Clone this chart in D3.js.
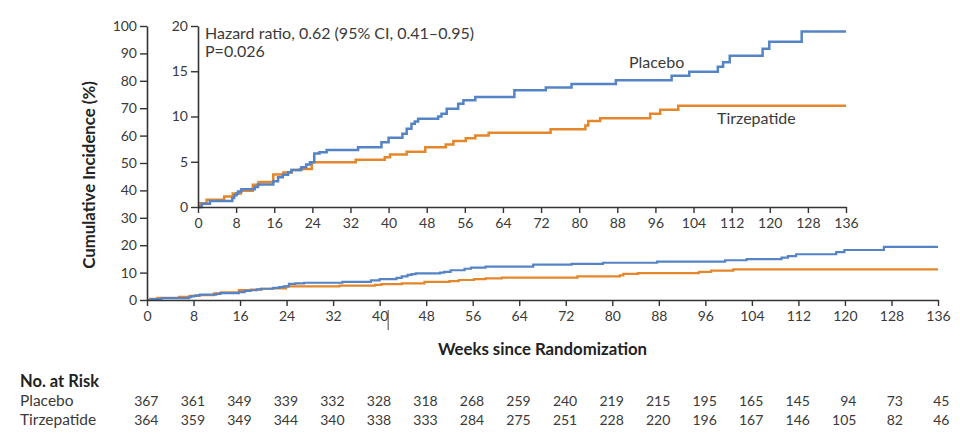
<!DOCTYPE html>
<html><head><meta charset="utf-8">
<script src="https://cdn.jsdelivr.net/npm/d3@7"></script>
<style>
body{margin:0;background:#fff;}
svg{display:block;font-family:Lato,"Noto Sans",sans-serif;}
</style></head>
<body>
<svg id="c" width="960" height="437"></svg>
<script>
// ---- data ----
const weekTicks = d3.range(0, 137, 8);
const mainYTicks = d3.range(0, 101, 10);
const insetYTicks = [0, 5, 10, 15, 20];
const placeboWeeks = [0,0.8,2.5,7.2,7.6,8.1,8.4,9.1,11.9,12.6,15.8,16.8,17.8,18.9,19.6,21.7,22.7,23.5,24.4,25.5,27.0,33.6,38.5,40.0,42.9,43.8,44.8,45.5,46.2,50.4,51.1,52.2,54.6,55.7,58.2,66.4,73.0,78.4,87.7,99.4,103.1,109.1,110.2,111.6,118.5,119.9,126.7,136];
const placeboValues = [0,0.35,0.65,1.0,1.3,1.5,1.7,1.95,2.2,2.5,2.85,3.3,3.55,3.85,4.1,4.4,4.7,4.95,5.9,6.05,6.3,6.6,7.15,7.65,8.1,8.65,9.2,9.45,9.75,10.0,10.3,10.85,11.4,11.8,12.15,12.9,13.2,13.6,14.0,14.5,14.95,15.5,16.0,16.7,17.5,18.25,19.4,19.4];
const tirzWeeks = [0,0.5,1.8,5.5,7.3,9.0,11.5,12.7,15.8,17.9,19.7,21.4,23.9,33.1,39.2,40.3,43.8,47.7,52.0,53.6,56.2,58.2,61.0,74.0,81.3,81.9,84.4,94.9,97.0,100.8,136];
const tirzValues = [0,0.42,0.8,1.16,1.5,1.8,2.45,2.75,3.6,3.8,4.1,4.2,4.95,5.22,5.5,5.8,6.1,6.6,6.9,7.3,7.6,7.9,8.2,8.6,9.0,9.5,9.8,10.3,10.75,11.2,11.2];
const riskGroups = ["Placebo", "Tirzepatide"];
const riskPlacebo = [367,361,349,339,332,328,318,268,259,240,219,215,195,165,145,94,73,45];
const riskTirz = [364,359,349,344,340,338,333,284,275,251,228,220,196,167,146,105,82,46];

const BLUE = "#5584c6", ORANGE = "#e3872a", AX = "#333", TXT = "#3a3a3a";
const placebo = placeboWeeks.map((w,i)=>({w, v: placeboValues[i]}));
const tirz = tirzWeeks.map((w,i)=>({w, v: tirzValues[i]}));

const svg = d3.select("#c");

function drawAxes(g, x, y, yTicks, fs, xLabOff){
  const xa = d3.axisBottom(x).tickValues(weekTicks).tickSize(6).tickPadding(xLabOff).tickSizeOuter(0);
  const ya = d3.axisLeft(y).tickValues(yTicks).tickSize(7).tickPadding(3).tickSizeOuter(0);
  const gx = g.append("g").attr("transform", `translate(0,${y(0)})`).call(xa);
  const gy = g.append("g").attr("transform", `translate(${x(0)},0)`).call(ya);
  [gx, gy].forEach(a=>{
    a.select(".domain").attr("stroke", AX).attr("stroke-width", 1.6);
    a.selectAll(".tick line").attr("stroke", AX).attr("stroke-width", 1.4);
    a.selectAll(".tick text").attr("fill", TXT).attr("font-size", fs).attr("font-family", "Lato");
  });
  return {gx, gy};
}

function drawLines(g, x, y, sw){
  const line = d3.line().x(d=>x(d.w)).y(d=>y(d.v)).curve(d3.curveStepAfter);
  g.append("path").datum(tirz).attr("d", line).attr("fill","none").attr("stroke", ORANGE).attr("stroke-width", sw);
  g.append("path").datum(placebo).attr("d", line).attr("fill","none").attr("stroke", BLUE).attr("stroke-width", sw);
}

// ---- main chart ----
const xMain = d3.scaleLinear().domain([0,136]).range([147,938]);
const yMain = d3.scaleLinear().domain([0,100]).range([300,26]);
const gMain = svg.append("g");
drawLines(gMain, xMain, yMain, 2.2);
drawAxes(gMain, xMain, yMain, mainYTicks, 14, 5);

// stray mark next to "40"
gMain.append("line").attr("x1", xMain(40)+8.5).attr("x2", xMain(40)+8.5).attr("y1", 310).attr("y2", 330).attr("stroke","#444").attr("stroke-width",1);

gMain.append("text").attr("x", (xMain(0)+xMain(136))/2).attr("y", 355).attr("text-anchor","middle")
  .attr("font-weight","bold").attr("font-size",16.8).attr("fill","#222").text("Weeks since Randomization");
gMain.append("text").attr("transform","translate(95,175) rotate(-90)").attr("text-anchor","middle")
  .attr("font-weight","bold").attr("font-size",16.8).attr("fill","#222").text("Cumulative Incidence (%)");

// ---- inset ----
const xIn = d3.scaleLinear().domain([0,136]).range([198,846]);
const yIn = d3.scaleLinear().domain([0,20]).range([207,26]);
const gIn = svg.append("g");
gIn.append("rect").attr("x", 165).attr("y", 14).attr("width", 700).attr("height", 225).attr("fill","#fff");
drawLines(gIn, xIn, yIn, 2.5);
drawAxes(gIn, xIn, yIn, insetYTicks, 14, 5);

gIn.append("text").attr("x", 205).attr("y", 38.5).attr("font-size",16).attr("fill",TXT)
  .text("Hazard ratio, 0.62 (95% CI, 0.41\u20130.95)");
gIn.append("text").attr("x", 205).attr("y", 56.5).attr("font-size",16).attr("fill",TXT).text("P=0.026");
gIn.append("text").attr("x", 629).attr("y", 68).attr("font-size",16).attr("fill",TXT).text("Placebo");
gIn.append("text").attr("x", 717).attr("y", 123.5).attr("font-size",16).attr("fill",TXT).text("Tirzepatide");

// ---- number at risk ----
const gR = svg.append("g").attr("font-size",14).attr("fill",TXT);
gR.append("text").attr("x",20).attr("y",386.5).attr("font-weight","bold").attr("font-size",16.5).attr("fill","#222").text("No. at Risk");
const riskRows = [riskPlacebo, riskTirz];
const rowY = [405.5, 424.5];
riskGroups.forEach((name,i)=>{
  gR.append("text").attr("x",20).attr("y",rowY[i]).attr("font-size",15.5).text(name);
  gR.selectAll(null).data(riskRows[i]).enter().append("text")
    .attr("x",(d,j)=>xMain(weekTicks[j])+11.5).attr("y",rowY[i]).attr("text-anchor","end").text(d=>d);
});
</script>
</body></html>
